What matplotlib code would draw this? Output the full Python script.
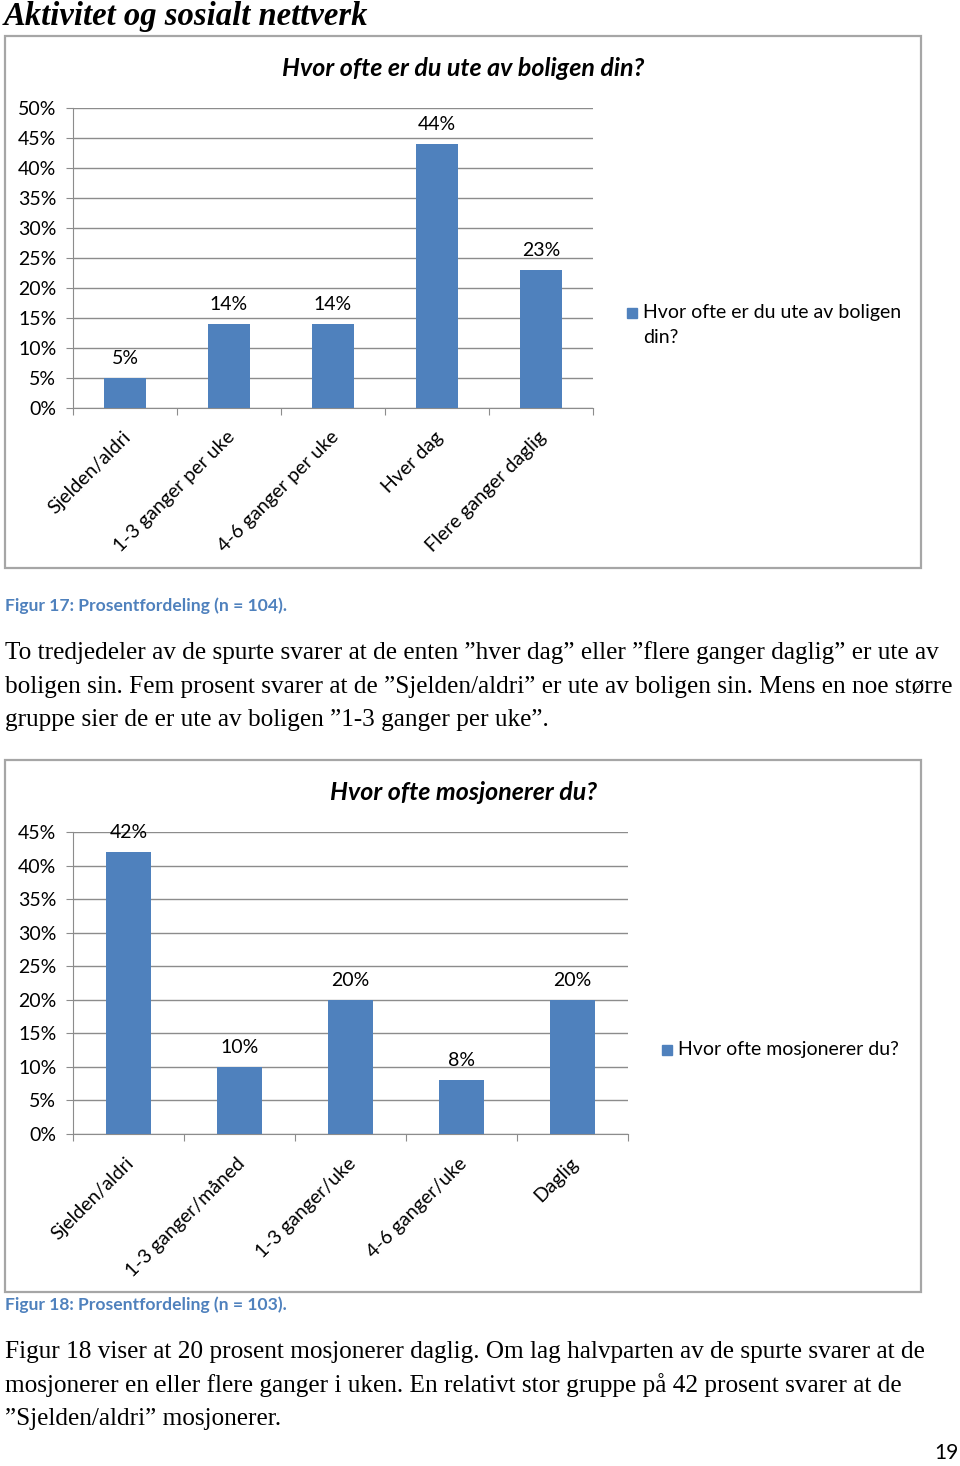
import matplotlib
matplotlib.use("Agg")
import matplotlib.pyplot as plt
from matplotlib.patches import Rectangle
from matplotlib.ticker import MultipleLocator, PercentFormatter

W, H = 960, 1466
BLUE = "#4F81BD"
GRID = "#8C8C8C"
SANS = ["Lato", "DejaVu Sans"]
SERIF = "Liberation Serif"

# figur 17
ute_kat = ["Sjelden/aldri", "1-3 ganger per uke", "4-6 ganger per uke",
           "Hver dag", "Flere ganger daglig"]
ute_val = [5, 14, 14, 44, 23]
ute_tittel = "Hvor ofte er du ute av boligen din?"

# figur 18
mosj_kat = ["Sjelden/aldri", "1-3 ganger/måned", "1-3 ganger/uke",
            "4-6 ganger/uke", "Daglig"]
mosj_val = [42, 10, 20, 8, 20]
mosj_tittel = "Hvor ofte mosjonerer du?"

tekst1 = ["To tredjedeler av de spurte svarer at de enten \u201dhver dag\u201d eller \u201dflere ganger daglig\u201d er ute av",
          "boligen sin. Fem prosent svarer at de \u201dSjelden/aldri\u201d er ute av boligen sin. Mens en noe større",
          "gruppe sier de er ute av boligen \u201d1-3 ganger per uke\u201d."]
tekst2 = ["Figur 18 viser at 20 prosent mosjonerer daglig. Om lag halvparten av de spurte svarer at de",
          "mosjonerer en eller flere ganger i uken. En relativt stor gruppe på 42 prosent svarer at de",
          "\u201dSjelden/aldri\u201d mosjonerer."]


def fx(x):
    return x / W


def fy(y):
    return 1 - y / H


fig = plt.figure(figsize=(W / 100, H / 100), dpi=100)


def chart(box, ax_px, kat, val, ymax, tittel, tittel_xy, leg_xy, leg_txt):
    x0, y0, x1, y1 = box
    fig.patches.append(Rectangle((fx(x0), fy(y1)), fx(x1 - x0), (y1 - y0) / H,
                                 transform=fig.transFigure, fill=False,
                                 edgecolor="#A6A6A6", lw=1.6))
    l, t, r, b = ax_px
    ax = fig.add_axes([fx(l), fy(b), fx(r - l), (b - t) / H])
    pos = list(range(len(kat)))
    bars = ax.bar(pos, val, width=0.4, color=BLUE, zorder=3)
    for rect, v in zip(bars, val):
        ax.annotate(f"{v}%", (rect.get_x() + rect.get_width() / 2, v),
                    xytext=(0, 8), textcoords="offset points",
                    ha="center", va="bottom", fontsize=14, family=SANS)
    ax.set_xlim(-0.5, len(kat) - 0.5)
    ax.set_ylim(0, ymax)
    ax.yaxis.set_major_locator(MultipleLocator(5))
    ax.yaxis.set_major_formatter(PercentFormatter(decimals=0))
    ax.grid(axis="y", color=GRID, lw=1, zorder=0)
    for s in ["top", "right"]:
        ax.spines[s].set_visible(False)
    for s in ["left", "bottom"]:
        ax.spines[s].set_color(GRID)
    ax.set_xticks([p - 0.5 for p in pos] + [len(kat) - 0.5])
    ax.set_xticklabels([])
    ax.tick_params(axis="x", length=5, color=GRID)
    ax.tick_params(axis="y", length=5, color=GRID, pad=7, labelsize=14)
    for lab in ax.get_yticklabels():
        lab.set_family(SANS)
    for p, k in zip(pos, kat):
        ax.annotate(k, (p, 0), xytext=(2, -19), textcoords="offset points",
                    rotation=45, ha="right", va="center",
                    rotation_mode="anchor", fontsize=14, family=SANS)
    fig.text(fx(tittel_xy[0]), fy(tittel_xy[1]), tittel, ha="center",
             va="center", fontsize=18, weight="bold", style="italic",
             family=SANS)
    lx, ly = leg_xy
    fig.patches.append(Rectangle((fx(lx - 5), fy(ly + 5)), fx(10), 10 / H,
                                 transform=fig.transFigure, color=BLUE))
    fig.text(fx(lx + 11), fy(ly - 9), leg_txt, ha="left", va="top",
             fontsize=14, family=SANS, linespacing=1.6)


fig.text(fx(4), fy(16), "Aktivitet og sosialt nettverk", ha="left",
         va="center", fontsize=23.5, weight="bold", style="italic",
         family=SERIF)

chart((5, 36, 921, 568), (73, 108, 593, 408), ute_kat, ute_val, 50,
      ute_tittel, (463, 68), (632, 313), "Hvor ofte er du ute av boligen\ndin?")
fig.text(fx(5), fy(606), "Figur 17: Prosentfordeling (n = 104).", ha="left",
         va="center", fontsize=12.6, weight="bold", color=BLUE, family=SANS)
for i, line in enumerate(tekst1):
    fig.text(fx(5), fy(653 + i * 33.5), line, ha="left", va="center",
             fontsize=18.2, family=SERIF)

chart((5, 760, 921, 1292), (73, 832, 628, 1134), mosj_kat, mosj_val, 45,
      mosj_tittel, (463, 792), (667, 1050), "Hvor ofte mosjonerer du?")
fig.text(fx(5), fy(1305), "Figur 18: Prosentfordeling (n = 103).", ha="left",
         va="center", fontsize=12.6, weight="bold", color=BLUE, family=SANS)
for i, line in enumerate(tekst2):
    fig.text(fx(5), fy(1352 + i * 33.5), line, ha="left", va="center",
             fontsize=18.2, family=SERIF)
fig.text(fx(959), fy(1453), "19", ha="right", va="center", fontsize=15,
         family=SANS)

fig.savefig("out.png", dpi=100)
